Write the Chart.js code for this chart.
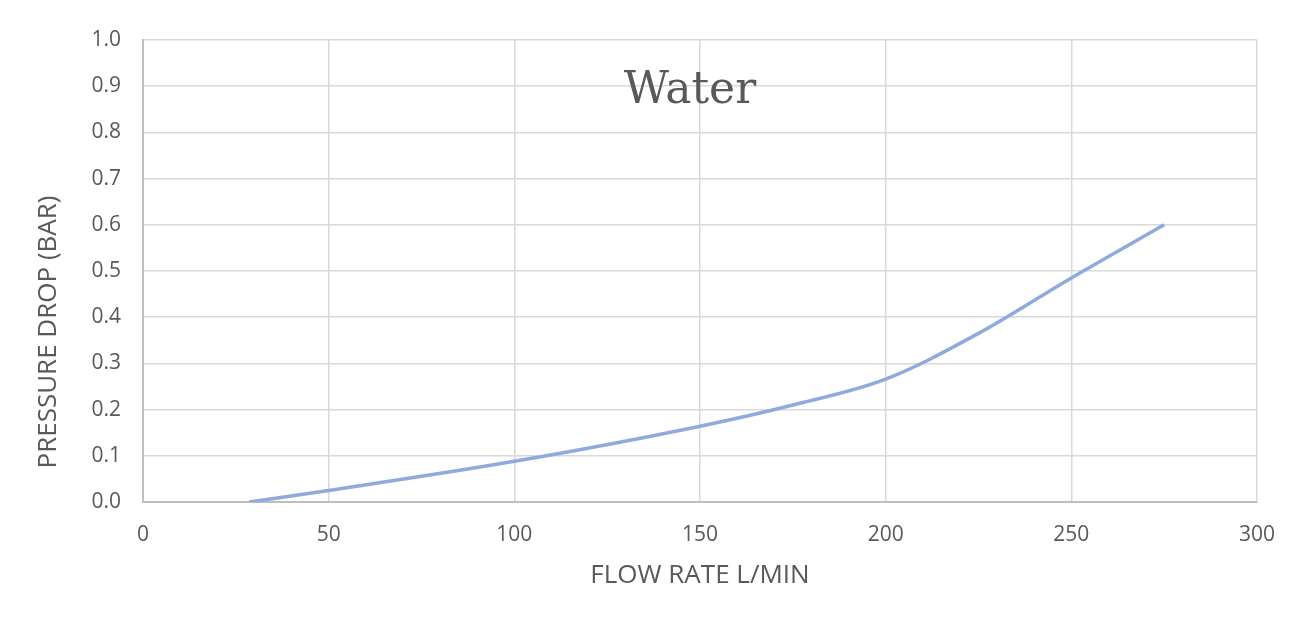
<!DOCTYPE html>
<html>
<head>
<meta charset="utf-8">
<script src="https://cdn.jsdelivr.net/npm/chart.js@4"></script>
<style>
  html, body { margin: 0; padding: 0; background: #fff; }
  #wrap { width: 1309px; height: 639px; }
</style>
</head>
<body>
<div id="wrap"><canvas id="chart"></canvas></div>
<script>
const flow = [28.6, 50, 100, 150, 175, 200, 225, 250, 275]
const drop = [0, 0.025, 0.088, 0.164, 0.21, 0.266, 0.365, 0.485, 0.6]
const chartTitle = "Water"
const xTitle = "FLOW RATE L/MIN"
const yTitle = "PRESSURE DROP (BAR)"

const grey = "#595959"

// chart title sits inside the plot area and the y title is shifted down, like the Excel original
const extraText = {
    id: "extraText",
    afterDraw(chart) {
        const ctx = chart.ctx
        const area = chart.chartArea
        ctx.save()
        ctx.fillStyle = grey
        ctx.textAlign = "center"
        ctx.textBaseline = "middle"
        ctx.font = "44px 'DejaVu Serif'"
        ctx.fillText(chartTitle, area.left + (area.right - area.left) * 0.491, 92)
        ctx.translate(49, 332)
        ctx.rotate(-Math.PI / 2)
        ctx.font = "26px 'Open Sans'"
        ctx.fillText(yTitle, 0, 0)
        ctx.restore()
    }
}

new Chart(document.getElementById("chart"), {
    type: "line",
    data: {
        datasets: [
            {
                label: chartTitle,
                data: flow.map((x, i) => ({x: x, y: drop[i]})),
                borderColor: "#8faadc",
                borderWidth: 3.5,
                pointRadius: 0,
                cubicInterpolationMode: "monotone",
                fill: false
            }
        ]
    },
    options: {
        responsive: true,
        maintainAspectRatio: false,
        animation: false,
        layout: { padding: { top: 40, right: 52, left: 0, bottom: 0 } },
        plugins: {
            legend: { display: false },
            tooltip: { enabled: false }
        },
        scales: {
            x: {
                type: "linear",
                min: 0,
                max: 300,
                ticks: { stepSize: 50, color: grey, padding: 20, font: { family: "Open Sans", size: 21 } },
                grid: { color: "#d9d9d9", lineWidth: 1.5, drawTicks: false },
                border: { color: "#bfbfbf", width: 2 },
                title: { display: true, text: xTitle, color: grey, padding: { bottom: 48 }, font: { family: "Open Sans", size: 26 } },
                afterFit: (s) => { s.height = 137 }
            },
            y: {
                min: 0,
                max: 1,
                ticks: { stepSize: 0.1, color: grey, padding: 22, font: { family: "Open Sans", size: 21 },
                    callback: (v) => v.toFixed(1) },
                grid: { color: "#d9d9d9", lineWidth: 1.5, drawTicks: false },
                border: { color: "#bfbfbf", width: 2 },
                afterFit: (s) => { s.width = 143 }
            }
        }
    },
    plugins: [extraText]
})
</script>
</body>
</html>
